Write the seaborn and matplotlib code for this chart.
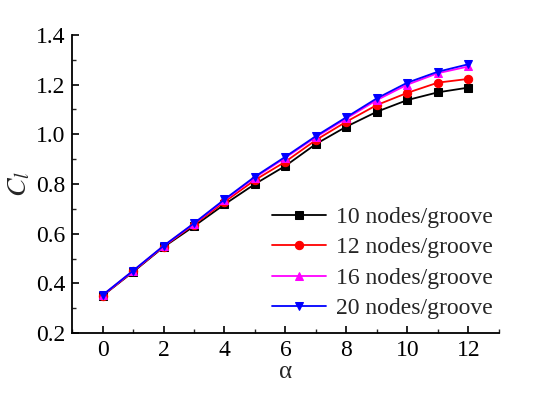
import numpy as np
import pandas as pd
import matplotlib
matplotlib.use("Agg")
import matplotlib.pyplot as plt
import seaborn as sns
from matplotlib.ticker import MultipleLocator

# ---------------------------------------------------------
# DATA
# ---------------------------------------------------------
alpha = [0, 1, 2, 3, 4, 5, 6, 7, 8, 9, 10, 11, 12]
cl_10 = [0.350, 0.446, 0.546, 0.630, 0.718, 0.800, 0.873, 0.961, 1.031, 1.091, 1.138, 1.169, 1.188]
cl_12 = [0.351, 0.448, 0.548, 0.637, 0.728, 0.816, 0.890, 0.977, 1.051, 1.118, 1.167, 1.208, 1.223]
cl_16 = [0.352, 0.450, 0.550, 0.641, 0.735, 0.826, 0.906, 0.989, 1.064, 1.138, 1.200, 1.246, 1.273]
cl_20 = [0.353, 0.451, 0.551, 0.642, 0.738, 0.830, 0.910, 0.993, 1.069, 1.145, 1.208, 1.252, 1.282]

labels = ['10 nodes/groove', '12 nodes/groove', '16 nodes/groove', '20 nodes/groove']
series = [cl_10, cl_12, cl_16, cl_20]
colors = ['black', 'red', 'magenta', 'blue']
markers = ['s', 'o', '^', 'v']

sns.set_style("ticks")
plt.rcParams['font.family'] = ['Liberation Serif', 'DejaVu Serif']
plt.rcParams['mathtext.fontset'] = 'stix'

fig = plt.figure(figsize=(5.5, 3.97), dpi=100)
ax = fig.add_axes([0.131, 0.161, 0.776, 0.751])

for vals, lab, c, m in zip(series, labels, colors, markers):
    sns.lineplot(x=alpha, y=vals, ax=ax, color=c, marker=m, markersize=6,
                 markeredgecolor=c, linewidth=1.3, label=lab)

ax.set_xlim(-1, 13)
ax.set_ylim(0.2, 1.4)
ax.xaxis.set_major_locator(MultipleLocator(2))
ax.xaxis.set_minor_locator(MultipleLocator(1))
ax.yaxis.set_major_locator(MultipleLocator(0.2))
ax.yaxis.set_minor_locator(MultipleLocator(0.1))
ax.yaxis.set_major_formatter(matplotlib.ticker.FormatStrFormatter('%.1f'))
ax.tick_params(which='major', direction='in', length=5, width=1.2, labelsize=17,
               colors='black', pad=5)
ax.tick_params(which='minor', direction='in', length=3, width=1.0)
sns.despine(ax=ax)
for s in ['left', 'bottom']:
    ax.spines[s].set_linewidth(1.3)
    ax.spines[s].set_color('black')

ax.set_xlabel('α', fontsize=18, labelpad=0)
ax.set_ylabel(r'$C_l$', fontsize=20, labelpad=2)

ax.legend(loc='lower right', bbox_to_anchor=(1.035, -0.025), frameon=False, fontsize=17,
          handlelength=2.3, handletextpad=0.4, labelspacing=0.38)

fig.savefig('out.png', dpi=100)
